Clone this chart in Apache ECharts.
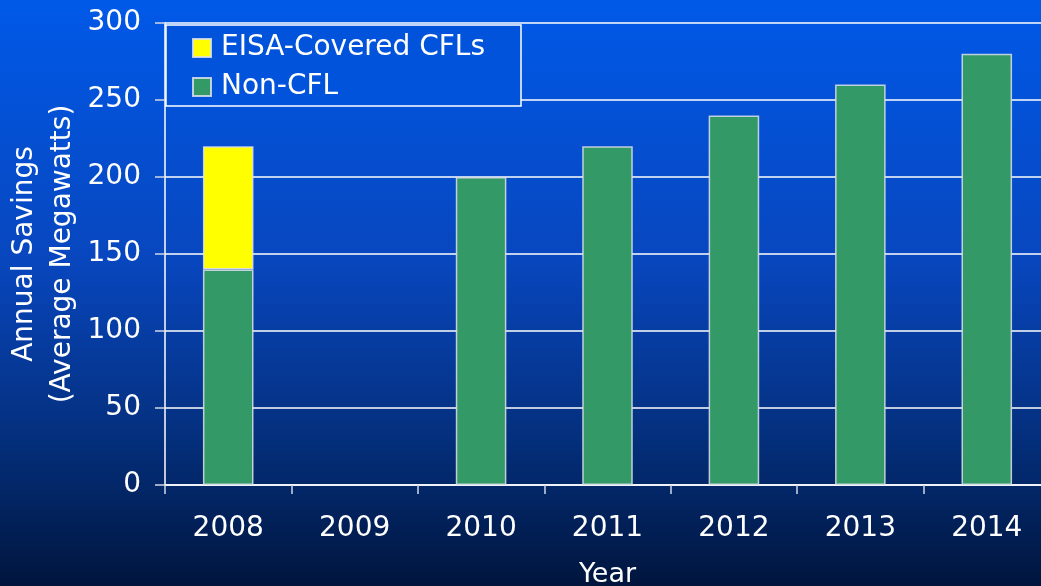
<!DOCTYPE html>
<html>
<head>
<meta charset="utf-8">
<script src="https://cdn.jsdelivr.net/npm/echarts@6/dist/echarts.min.js"></script>
<style>
  html, body { margin: 0; padding: 0; }
  #chart { width: 1041px; height: 586px; }
</style>
</head>
<body>
<div id="chart"></div>
<script>
// Annual savings by year, in average megawatts
const years = ['2008', '2009', '2010', '2011', '2012', '2013', '2014'];
const nonCfl = [140, null, 200, 220, 240, 260, 280];
const eisaCfl = [80, null, null, null, null, null, null];
const yTicks = { min: 0, max: 300, interval: 50 };

const FONT = '"DejaVu Sans", Verdana, sans-serif';
const barBorder = { borderColor: 'rgba(220,225,235,0.85)', borderWidth: 1.5 };

const chart = echarts.init(document.getElementById('chart'));
chart.setOption({
  backgroundColor: new echarts.graphic.LinearGradient(0, 0, 0, 1, [
    { offset: 0, color: '#0059e8' },
    { offset: 0.45, color: '#0846bd' },
    { offset: 0.75, color: '#042f7c' },
    { offset: 1, color: '#00153d' }
  ]),
  textStyle: { fontFamily: FONT },
  grid: { left: 165, top: 23, width: 885, height: 462, containLabel: false, outerBoundsMode: 'none' },
  legend: {
    orient: 'vertical',
    left: 166,
    top: 25,
    data: ['EISA-Covered CFLs', 'Non-CFL'],
    icon: 'rect',
    itemWidth: 18,
    itemHeight: 18,
    itemGap: 11,
    padding: [9, 36, 5, 26],
    backgroundColor: '#0053da',
    borderColor: '#ffffff',
    borderWidth: 1.5,
    borderRadius: 0,
    textStyle: { color: '#ffffff', fontSize: 28, fontFamily: FONT, lineHeight: 27, padding: [0, 0, 0, 5] }
  },
  xAxis: {
    type: 'category',
    data: years,
    name: 'Year',
    nameLocation: 'middle',
    nameGap: 76,
    nameMoveOverlap: false,
    nameTextStyle: { color: '#ffffff', fontSize: 27, fontFamily: FONT },
    axisLine: { lineStyle: { color: '#ffffff', width: 1.5 } },
    axisTick: { show: true, alignWithLabel: false, length: 9, lineStyle: { color: '#d0d8e8', width: 1.5 } },
    axisLabel: { color: '#ffffff', fontSize: 28, fontFamily: FONT, margin: 30 }
  },
  yAxis: {
    type: 'value',
    min: yTicks.min,
    max: yTicks.max,
    interval: yTicks.interval,
    name: 'Annual Savings\n(Average Megawatts)',
    nameLocation: 'middle',
    nameGap: 83,
    nameMoveOverlap: false,
    nameTextStyle: { color: '#ffffff', fontSize: 28, fontFamily: FONT, lineHeight: 38 },
    axisLine: { show: true, lineStyle: { color: '#ffffff', width: 1.5 } },
    axisTick: { show: true, length: 10, lineStyle: { color: '#d0d8e8', width: 1.5 } },
    axisLabel: { color: '#ffffff', fontSize: 28, fontFamily: FONT, margin: 24 },
    splitLine: { show: true, lineStyle: { color: '#ffffff', width: 1.5 } }
  },
  series: [
    {
      name: 'Non-CFL',
      type: 'bar',
      stack: 'total',
      barWidth: '40%',
      data: nonCfl,
      itemStyle: Object.assign({ color: '#339966' }, barBorder)
    },
    {
      name: 'EISA-Covered CFLs',
      type: 'bar',
      stack: 'total',
      barWidth: '40%',
      data: eisaCfl,
      itemStyle: Object.assign({ color: '#ffff00' }, barBorder)
    }
  ]
});
</script>
</body>
</html>
